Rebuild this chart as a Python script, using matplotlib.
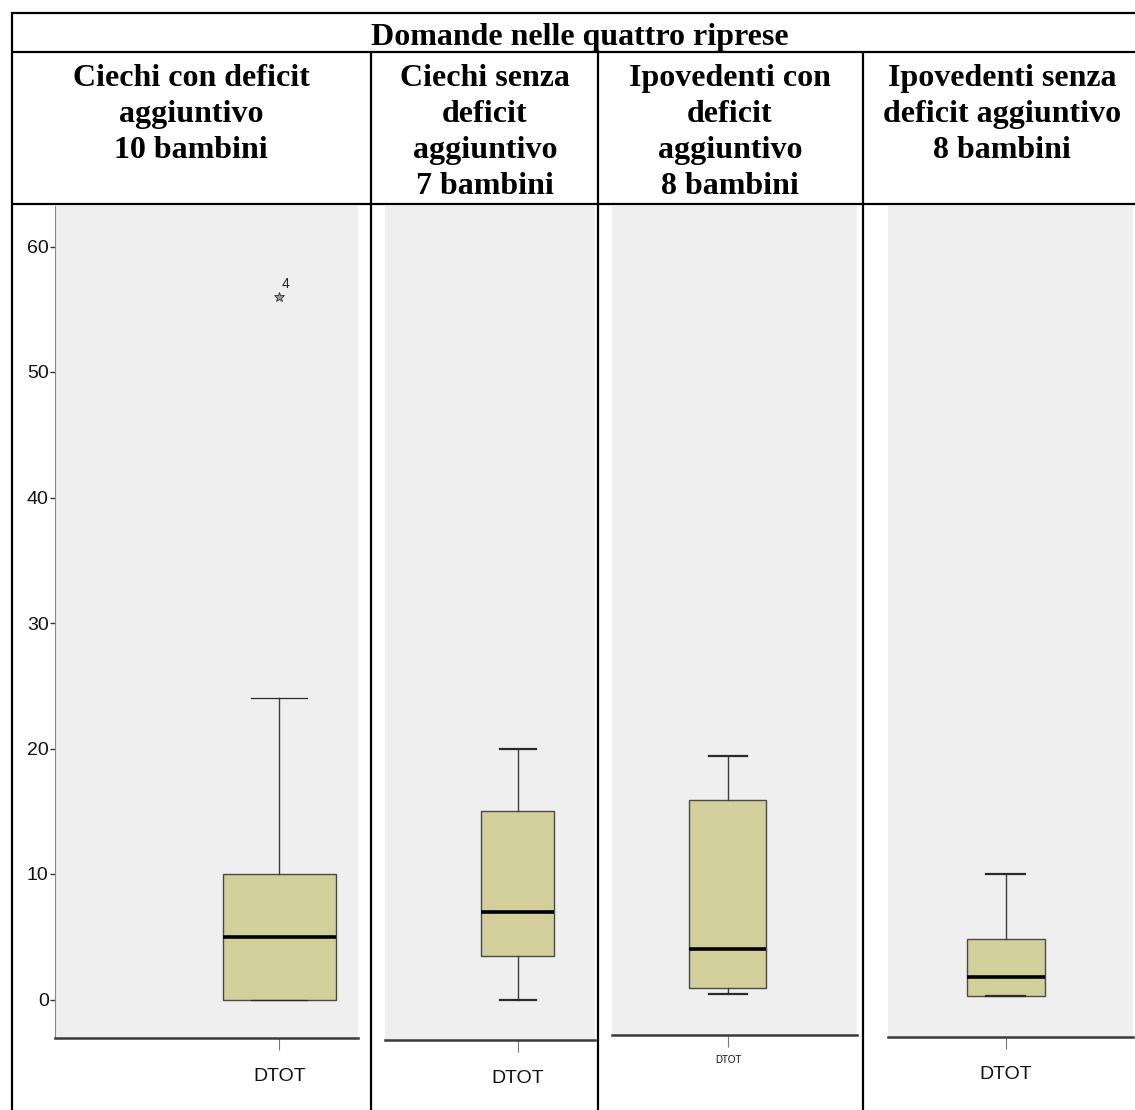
import matplotlib
matplotlib.use("Agg")
import matplotlib.pyplot as plt
from matplotlib.lines import Line2D

# ---------------- data ----------------
table_title = "Domande nelle quattro riprese"
group_headers = [
    ["Ciechi con deficit", "aggiuntivo", "10 bambini"],
    ["Ciechi senza", "deficit", "aggiuntivo", "7 bambini"],
    ["Ipovedenti con", "deficit", "aggiuntivo", "8 bambini"],
    ["Ipovedenti senza", "deficit aggiuntivo", "8 bambini"],
]
variable_label = "DTOT"
whisker_low = [0, 0, 0.4, 0.3]
quartile_1 = [0, 3.5, 0.9, 0.3]
medians = [5, 7, 4, 1.8]
quartile_3 = [10, 15, 15.9, 4.8]
whisker_high = [24, 20, 19.4, 10]
outliers = [[56], [], [], []]
outlier_ids = [["4"], [], [], []]
y_ticks = [0, 10, 20, 30, 40, 50, 60]

# ---------------- layout (pixels) ----------------
W, H = 1135, 1110
panel_px = [(55, 206, 358, 1038), (385, 206, 595, 1040),
            (612, 206, 857, 1035), (888, 206, 1133, 1037)]
box_center = [0.74, 0.633, 0.473, 0.481]
box_width = [0.373, 0.348, 0.314, 0.318]
cap_lw = [0.9, 1.6, 1.6, 1.6]
zero_px, px_per_unit = 999.5, 12.55
col_x = [12, 371, 598, 863]
header_x = [191, 485, 730, 1002]
header_baselines = [86, 122, 158, 194]
label_size = [14, 14, 7, 14]
label_pad = [13, 13, 6, 12]

SERIF = ["Liberation Serif", "DejaVu Serif"]
NARROW = ["Liberation Sans Narrow", "Liberation Sans", "DejaVu Sans"]

fig = plt.figure(figsize=(W / 100, H / 100), dpi=100)
fig.patch.set_facecolor("white")

# background layer holding the table grid and headings, in pixel coordinates
base = fig.add_axes([0, 0, 1, 1], zorder=0)
base.set_xlim(0, W)
base.set_ylim(H, 0)
base.axis("off")

grid_kw = dict(color="black", lw=1.6, solid_capstyle="butt")
for y in (13, 52, 204):
    base.add_line(Line2D([col_x[0] - 1, W], [y, y], **grid_kw))
base.add_line(Line2D([col_x[0], col_x[0]], [12, H], **grid_kw))
for x in col_x[1:]:
    base.add_line(Line2D([x, x], [52, H], **grid_kw))

base.text(580, 45, table_title, family=SERIF, weight="bold", fontsize=23,
          ha="center", va="baseline")
for cx, lines in zip(header_x, group_headers):
    for y, line in zip(header_baselines, lines):
        base.text(cx, y, line, family=SERIF, weight="bold", fontsize=23,
                  ha="center", va="baseline")

# one boxplot panel per group
for i, (x0, y0, x1, y1) in enumerate(panel_px):
    ax = fig.add_axes([x0 / W, 1 - y1 / H, (x1 - x0) / W, (y1 - y0) / H], zorder=1)
    ax.set_facecolor("#efefef")
    ax.set_xlim(0, 1)
    ax.set_ylim((zero_px - y1) / px_per_unit, (zero_px - y0) / px_per_unit)

    stats = [dict(med=medians[i], q1=quartile_1[i], q3=quartile_3[i],
                  whislo=whisker_low[i], whishi=whisker_high[i],
                  fliers=outliers[i], label=variable_label)]
    ax.bxp(stats, positions=[box_center[i]], widths=[box_width[i]],
           capwidths=[box_width[i] / 2], patch_artist=True,
           boxprops=dict(facecolor="#d3cf9a", edgecolor="#4a4a4a", lw=1.0),
           medianprops=dict(color="black", lw=2.6, solid_capstyle="butt"),
           whiskerprops=dict(color="#3c3c3c", lw=1.0),
           capprops=dict(color="#2a2a2a", lw=cap_lw[i]),
           flierprops=dict(marker="*", markersize=7, markerfacecolor="#9a9a9a",
                           markeredgecolor="#333333", markeredgewidth=0.6,
                           linestyle="none"))
    for val, ident in zip(outliers[i], outlier_ids[i]):
        ax.annotate(ident, (box_center[i], val), xytext=(2, 6),
                    textcoords="offset points", fontsize=10,
                    family=NARROW, color="#222222")

    for side in ("top", "right"):
        ax.spines[side].set_visible(False)
    ax.spines["bottom"].set_color("#3a3a3a")
    ax.spines["bottom"].set_linewidth(1.8)

    ax.set_xticks([box_center[i]])
    ax.set_xticklabels([variable_label], family=NARROW, fontsize=label_size[i])
    ax.tick_params(axis="x", length=8.6, width=0.8, color="#777777",
                   pad=label_pad[i], labelcolor="#111111")

    if i == 0:
        ax.spines["left"].set_color("#8a8a8a")
        ax.spines["left"].set_linewidth(0.8)
        ax.set_yticks(y_ticks)
        ax.set_yticklabels([str(t) for t in y_ticks], family=NARROW, fontsize=14)
        ax.tick_params(axis="y", length=3.5, width=1.0, color="#333333",
                       pad=1, labelcolor="#111111")
    else:
        ax.spines["left"].set_visible(False)
        ax.set_yticks([])

fig.savefig("out.png", dpi=100)
